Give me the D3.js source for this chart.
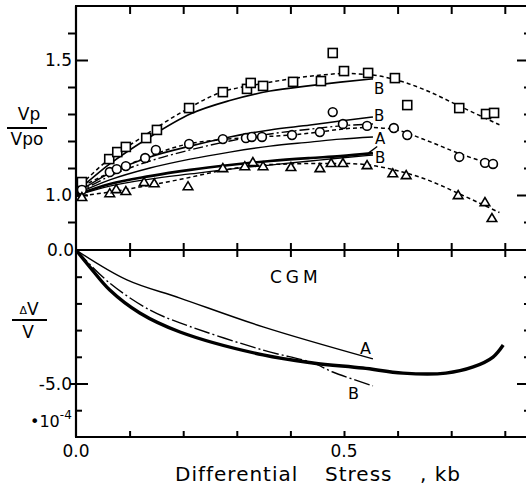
<!DOCTYPE html>
<html><head><meta charset="utf-8">
<script src="https://cdn.jsdelivr.net/npm/d3@7"></script>
<style>
html,body{margin:0;padding:0;background:#fff;}
text{font-family:"DejaVu Sans",sans-serif;fill:#000;}
</style></head>
<body>
<svg id="chart" width="526" height="491"></svg>
<script>
// ---------- data ----------
// Upper panel: Vp/Vp0 vs differential stress (kb)
const squareX = [0.011,0.062,0.077,0.093,0.131,0.151,0.211,0.274,0.319,0.326,0.349,0.405,0.457,0.479,0.500,0.545,0.595,0.618,0.715,0.765,0.780];
const squareY = [1.048,1.133,1.159,1.178,1.211,1.241,1.322,1.381,1.393,1.415,1.404,1.419,1.422,1.526,1.459,1.452,1.433,1.333,1.322,1.300,1.304];
const circleX = [0.011,0.063,0.076,0.093,0.129,0.149,0.211,0.274,0.317,0.328,0.347,0.403,0.455,0.479,0.498,0.543,0.593,0.618,0.715,0.763,0.778];
const circleY = [1.019,1.085,1.096,1.107,1.137,1.167,1.189,1.207,1.211,1.215,1.215,1.222,1.233,1.307,1.263,1.256,1.248,1.222,1.141,1.119,1.115];
const triX = [0.011,0.063,0.075,0.093,0.127,0.146,0.209,0.274,0.315,0.330,0.349,0.401,0.455,0.476,0.498,0.543,0.591,0.616,0.713,0.763,0.776];
const triY = [0.993,1.007,1.022,1.015,1.048,1.044,1.033,1.100,1.107,1.122,1.107,1.104,1.100,1.119,1.119,1.111,1.081,1.074,1.000,0.974,0.915];

// dotted trend curves through the data
const fitX = [0.0,0.06,0.12,0.2,0.27,0.34,0.40,0.46,0.50,0.55,0.60,0.65,0.72,0.79];
const squareFitY = [1.02,1.13,1.21,1.31,1.38,1.41,1.43,1.445,1.45,1.445,1.425,1.39,1.325,1.26];
const circleFitY = [1.02,1.08,1.13,1.185,1.205,1.215,1.222,1.235,1.245,1.25,1.24,1.205,1.15,1.105];
const triFitY = [0.995,1.01,1.03,1.06,1.09,1.11,1.115,1.117,1.117,1.11,1.09,1.06,1.00,0.935];

// model curves (upper panel)
const modelX = [0.0,0.063,0.138,0.213,0.287,0.362,0.437,0.493,0.554];
const squareB = [1.011,1.115,1.215,1.300,1.350,1.385,1.405,1.418,1.430];
const circleB = [1.007,1.081,1.141,1.181,1.215,1.241,1.259,1.274,1.289];
const circleBdd = [1.004,1.070,1.126,1.167,1.200,1.226,1.244,1.256,1.263];
const circleA = [1.004,1.056,1.100,1.133,1.159,1.181,1.196,1.207,1.215];
const triB = [1.0,1.041,1.070,1.093,1.111,1.126,1.137,1.144,1.155];
const triBthin = [0.998,1.033,1.059,1.078,1.096,1.111,1.126,1.137,1.148];

// Lower panel: dV/V (x 1e-4)
const lowAX = [0,0.095,0.194,0.349,0.554];
const lowAY = [0,-1.12,-1.80,-2.88,-4.08];
const lowBX = [0,0.063,0.138,0.194,0.349,0.442,0.479,0.554];
const lowBY = [0,-1.24,-2.25,-2.73,-3.75,-4.23,-4.57,-5.09];
const cgmX = [0,0.026,0.063,0.119,0.194,0.349,0.442,0.535,0.610,0.690,0.741,0.778,0.797];
const cgmY = [0,-0.64,-1.50,-2.36,-3.07,-3.93,-4.23,-4.42,-4.61,-4.61,-4.38,-4.01,-3.56];

const xTicks = [0.1,0.2,0.3,0.4,0.5,0.6,0.7,0.8];
const upperMajor = [1.0,1.5];
const upperMinor = [0.9,1.1,1.2,1.3,1.4,1.6];
const lowerMajor = [-5];
const lowerMinor = [-1,-2,-3,-4,-6];

// ---------- layout ----------
const svg = d3.select("#chart");
const L = 76, R = 526, TOP = 6, MID = 250, BOT = 437;
const x = d3.scaleLinear().domain([0,0.5]).range([L,344]);
const yU = d3.scaleLinear().domain([1.0,1.5]).range([195,60]);
const yL = d3.scaleLinear().domain([0,-5]).range([MID,383.5]);

function axisG(){ return svg.append("g"); }
function styleAxis(g){ g.select(".domain").remove(); g.selectAll("line").attr("stroke","#000").attr("stroke-width",2); }

// frame lines
const frame = svg.append("g").attr("stroke","#000").attr("stroke-width",2.2).attr("fill","none");
frame.append("path").attr("d",`M${L},${TOP}V${BOT}`);
[TOP,MID,BOT].forEach(yy=>frame.append("path").attr("d",`M${L-1},${yy}H${R+2}`));

// x ticks
axisG().attr("transform",`translate(0,${TOP})`).call(d3.axisBottom(x).tickValues(xTicks).tickSize(8).tickFormat("")).call(styleAxis);
axisG().attr("transform",`translate(0,${MID})`).call(d3.axisBottom(x).tickValues(xTicks).tickSize(7).tickFormat("")).call(styleAxis);
axisG().attr("transform",`translate(0,${MID})`).call(d3.axisTop(x).tickValues(xTicks).tickSize(7).tickFormat("")).call(styleAxis);
axisG().attr("transform",`translate(0,${BOT})`).call(d3.axisTop(x).tickValues(xTicks).tickSize(6).tickFormat("")).call(styleAxis);

// left ticks
axisG().attr("transform",`translate(${L},0)`).call(d3.axisRight(yU).tickValues(upperMajor).tickSize(12).tickFormat("")).call(styleAxis);
axisG().attr("transform",`translate(${L},0)`).call(d3.axisLeft(yU).tickValues(upperMinor).tickSize(8).tickFormat("")).call(styleAxis);
axisG().attr("transform",`translate(${L},0)`).call(d3.axisRight(yL).tickValues(lowerMinor).tickSize(6).tickFormat("")).call(styleAxis);
axisG().attr("transform",`translate(${L},0)`).call(d3.axisRight(yL).tickValues(lowerMajor).tickSize(12).tickFormat("")).call(styleAxis);
axisG().attr("transform",`translate(${L},0)`).call(d3.axisLeft(yL).tickValues(lowerMajor).tickSize(6).tickFormat("")).call(styleAxis);

// right ticks
axisG().attr("transform",`translate(${R+1},0)`).call(d3.axisLeft(yU).tickValues(upperMajor).tickSize(10).tickFormat("")).call(styleAxis);
axisG().attr("transform",`translate(${R+1},0)`).call(d3.axisLeft(yU).tickValues(upperMinor).tickSize(3).tickFormat("")).call(styleAxis);
axisG().attr("transform",`translate(${R+1},0)`).call(d3.axisLeft(yL).tickValues(lowerMajor).tickSize(10).tickFormat("")).call(styleAxis);
axisG().attr("transform",`translate(${R+1},0)`).call(d3.axisLeft(yL).tickValues(lowerMinor).tickSize(3).tickFormat("")).call(styleAxis);

// tick labels
const lab = svg.append("g").attr("font-size",17);
lab.append("text").attr("x",72).attr("y",yU(1.5)+6).attr("text-anchor","end").text("1.5");
lab.append("text").attr("x",72).attr("y",yU(1.0)+6).attr("text-anchor","end").text("1.0");
lab.append("text").attr("x",74).attr("y",MID+6).attr("text-anchor","end").text("0.0");
lab.append("text").attr("x",72).attr("y",yL(-5)+6).attr("text-anchor","end").text("-5.0");
lab.append("text").attr("x",x(0)).attr("y",457).attr("text-anchor","middle").text("0.0");
lab.append("text").attr("x",x(0.5)).attr("y",457).attr("text-anchor","middle").text("0.5");
const sci = svg.append("text").attr("x",30).attr("y",427).attr("font-size",16);
sci.append("tspan").text("•10");
sci.append("tspan").attr("dy",-8).attr("font-size",12).text("-4");

// axis title
const title = svg.append("text").attr("y",481).attr("font-size",20).attr("letter-spacing",1);
title.append("tspan").attr("x",175).text("Differential");
title.append("tspan").attr("x",325).text("Stress");
title.append("tspan").attr("x",420).text(", kb");

// y labels
const yl = svg.append("g").attr("font-size",17).attr("text-anchor","middle");
yl.append("text").attr("x",29).attr("y",120).text("Vp");
yl.append("line").attr("x1",7).attr("x2",47).attr("y1",128).attr("y2",128).attr("stroke","#000").attr("stroke-width",2);
yl.append("text").attr("x",27).attr("y",145).text("Vpo");
const dv = yl.append("text").attr("x",29).attr("y",315);
dv.append("tspan").attr("font-size",11).attr("dy",-1).text("Δ");
dv.append("tspan").attr("dy",1).text("V");
yl.append("line").attr("x1",12).attr("x2",47).attr("y1",320).attr("y2",320).attr("stroke","#000").attr("stroke-width",2);
yl.append("text").attr("x",28).attr("y",338).text("V");

// ---------- curves ----------
function draw(xs, ys, yScale, opts){
  const line = d3.line().x(d=>x(d[0])).y(d=>yScale(d[1])).curve(opts.curve||d3.curveMonotoneX);
  svg.append("path").datum(d3.zip(xs,ys)).attr("d",line)
    .attr("fill","none").attr("stroke","#000")
    .attr("stroke-width",opts.w||1.4)
    .attr("stroke-dasharray",opts.dash||null);
}
const dotted = {w:1.5, dash:"4,3"};
draw(fitX, squareFitY, yU, dotted);
draw(fitX, circleFitY, yU, dotted);
draw(fitX, triFitY, yU, dotted);
draw(modelX, squareB, yU, {w:1.6});
draw(modelX, circleB, yU, {w:1.6});
draw(modelX, circleBdd, yU, {w:1.4, dash:"10,3,2,3"});
draw(modelX, circleA, yU, {w:1.4});
draw(modelX, triB, yU, {w:2.6});
draw(modelX, triBthin, yU, {w:1.3});
// leader from lower lines to label A
svg.append("path").attr("d",`M${x(0.546)},${yU(1.156)}L${x(0.562)},${yU(1.18)}`).attr("stroke","#000").attr("stroke-width",1.3);

// markers
const mk = svg.append("g").attr("fill","#fff").attr("stroke","#000").attr("stroke-width",1.6);
mk.selectAll(".sq").data(d3.zip(squareX,squareY)).join("rect")
  .attr("x",d=>x(d[0])-4.5).attr("y",d=>yU(d[1])-4.5).attr("width",9).attr("height",9);
mk.selectAll(".ci").data(d3.zip(circleX,circleY)).join("circle")
  .attr("cx",d=>x(d[0])).attr("cy",d=>yU(d[1])).attr("r",4.4);
mk.selectAll(".tr").data(d3.zip(triX,triY)).join("path")
  .attr("d",d=>{const cx=x(d[0]), cy=yU(d[1]); return `M${cx-4.8},${cy+3.6}L${cx+4.8},${cy+3.6}L${cx},${cy-4.4}Z`;});

// curve labels upper
const cl = svg.append("g").attr("font-size",15);
cl.append("text").attr("x",374).attr("y",94).text("B");
cl.append("text").attr("x",374).attr("y",121).text("B");
cl.append("text").attr("x",375).attr("y",144).text("A");
cl.append("text").attr("x",375).attr("y",163).text("B");

// ---------- lower panel ----------
draw(lowAX, lowAY, yL, {w:1.4, curve:d3.curveCatmullRom});
draw(lowBX, lowBY, yL, {w:1.4, dash:"16,3,2,3", curve:d3.curveCatmullRom});
draw(cgmX, cgmY, yL, {w:3.4, curve:d3.curveCatmullRom});
cl.append("text").attr("x",360).attr("y",354).attr("font-size",16).text("A");
cl.append("text").attr("x",348).attr("y",399).attr("font-size",16).text("B");
svg.append("text").attr("x",270).attr("y",283).attr("font-size",17).attr("letter-spacing",4).text("CGM");
</script>
</body></html>
